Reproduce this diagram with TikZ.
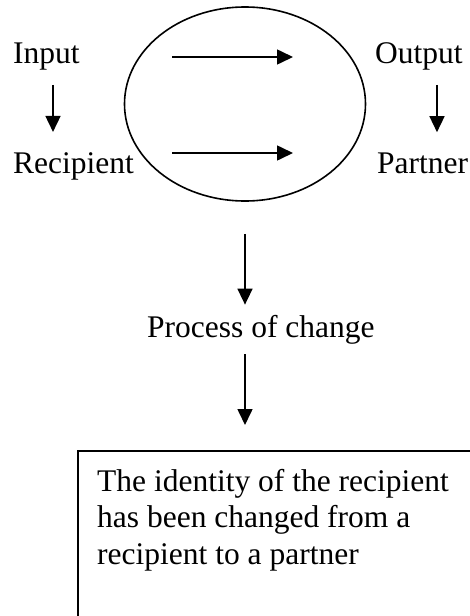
\documentclass[tikz,border=0pt]{standalone}
\usepackage{fontspec}
\setmainfont{Liberation Serif}
\usetikzlibrary{arrows.meta,positioning,shapes.geometric}

\begin{document}
\begin{tikzpicture}[
  x=1pt, y=-1pt,
  font=\fontsize{31.5}{36.5}\selectfont,
  lbl/.style={inner sep=0pt, anchor=base west},
  ring/.style={draw, ellipse, line width=1.6pt, minimum width=241pt, minimum height=194pt},
  box/.style={draw, line width=1.6pt, anchor=north west, minimum width=420pt, minimum height=200pt},
  arrow/.style={-{Triangle[length=16pt,width=15pt]}, line width=1.6pt}
]
\useasboundingbox (0,0) rectangle (470,616);
\node[ring] (change) at (245,104) {};
\node[lbl] (inp) at (13,63) {Input};
\node[lbl] (rec) at (13,173) {Recipient};
\node[lbl] (out) at (375,63) {Output};
\node[lbl] (partner) at (377,173) {Partner};
\node[lbl] (proc) at (147,337) {Process of change};
\node[box] (result) at (77,450) {};
\node[inner sep=0pt, anchor=north west, align=left] (resulttext) at ([shift={(20,19)}]result.north west)
  {The identity of the recipient\\has been changed from a\\recipient to a partner};
% arrows inside the ring
\coordinate (topstart) at ([shift={(-73,-47)}]change.center);
\coordinate (topend) at ([shift={(48,-47)}]change.center);
\coordinate (lowstart) at ([shift={(-73,49)}]change.center);
\coordinate (lowend) at ([shift={(48,49)}]change.center);
\draw[arrow] (topstart) -- (topend);
\draw[arrow] (lowstart) -- (lowend);
% side arrows
\coordinate (inx) at (53,0);
\coordinate (outx) at (437,0);
\draw[arrow, shorten <=15pt, shorten >=20pt] (inp.south -| inx) -- (rec.north -| inx);
\draw[arrow, shorten <=15pt, shorten >=20pt] (out.south -| outx) -- (partner.north -| outx);
% downward arrows
\draw[arrow, shorten <=32pt, shorten >=10pt] (change.south) -- (proc.north -| change.south);
\draw[arrow, shorten <=10pt, shorten >=25pt] (proc.south -| change.south) -- (result.north -| change.south);
\end{tikzpicture}
\end{document}
